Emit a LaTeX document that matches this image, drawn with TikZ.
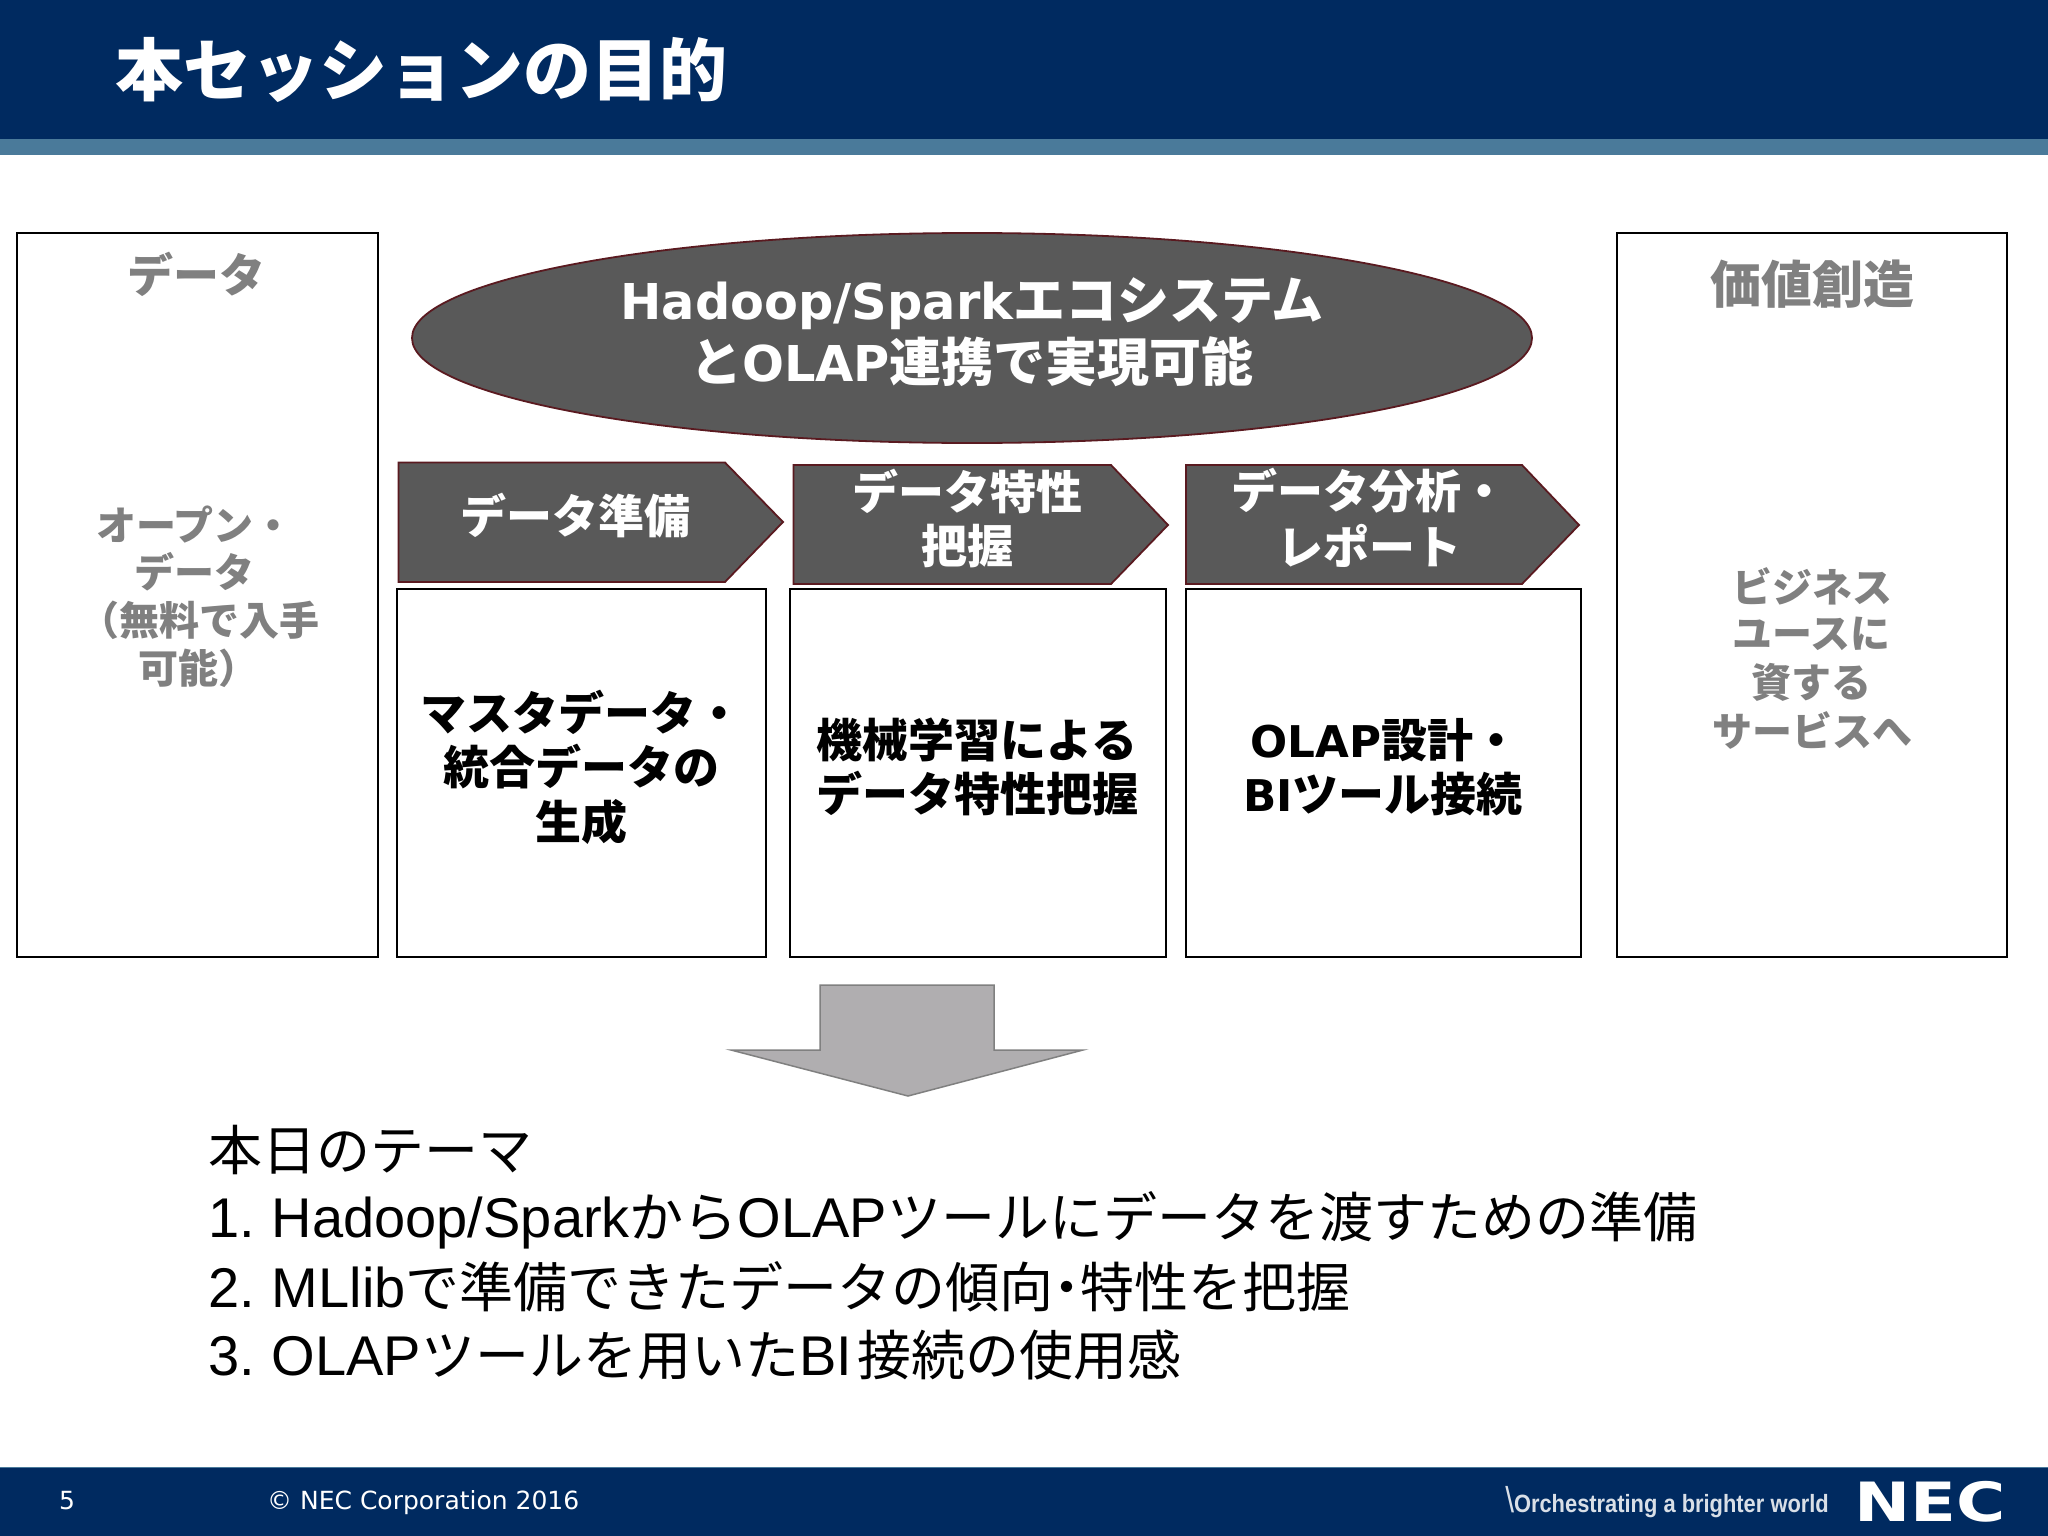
\documentclass[tikz,border=0pt]{standalone}
\usepackage{fontspec}
\usetikzlibrary{shapes.geometric}
\setmainfont{Noto Sans CJK JP}
\newfontfamily\lsans{Liberation Sans}
\newfontfamily\dv{DejaVu Sans}
\newfontfamily\dvb[Scale=0.95]{DejaVu Sans Bold}
\newcommand{\la}[1]{{\lsans\fontsize{56}{56}\selectfont #1}}
\newcommand{\lb}[1]{{\dvb #1}}
\newcommand{\fs}[1]{\fontsize{#1}{#1}\selectfont}
\definecolor{navy}{HTML}{002A60}
\definecolor{band}{HTML}{4A7A9A}
\definecolor{dkfill}{HTML}{595959}
\definecolor{dkline}{HTML}{5A1A20}
\definecolor{greytxt}{HTML}{808080}
\definecolor{arrfill}{HTML}{B0AEB0}
\tikzset{
  x=1pt,y=-1pt,
  panel/.style={draw=black,line width=2pt,fill=white},
  dark/.style={draw=dkline,line width=1.8pt,fill=dkfill},
  wtxt/.style={text=white,font=\bfseries\fs{46},align=center,inner sep=0pt},
  btxt/.style={text=black,font=\bfseries\fs{46},align=center,inner sep=0pt},
  gtxt/.style={text=greytxt,font=\bfseries\fs{40},inner sep=0pt},
}
\begin{document}
\begin{tikzpicture}
\useasboundingbox (0,0) rectangle (2048,1536);
\fill[white] (0,0) rectangle (2048,1536);
% header
\fill[navy] (0,0) rectangle (2048,139);
\fill[band] (0,139) rectangle (2048,155);
\node[anchor=west,text=white,font=\bfseries\fs{68},inner sep=0pt] (title) at (115,70) {本セッションの目的};
% side and lower panels
\draw[panel] (17,233) rectangle (377.5,957);
\draw[panel] (1617,233) rectangle (2007,957);
\draw[panel] (397,589) rectangle (765.5,957);
\draw[panel] (789.5,589) rectangle (1166,957);
\draw[panel] (1186,589) rectangle (1580.5,957);
% ellipse
\node[ellipse,dark,minimum width=1120pt,minimum height=210pt,inner sep=0pt] (eco) at (972,338) {};
\node[wtxt,font=\bfseries\fs{52}] (ecotxt1) at (972,304) {\lb{Hadoop/Spark}エコシステム};
\node[wtxt,font=\bfseries\fs{52}] (ecotxt2) at (972,362) {と\lb{OLAP}連携で実現可能};
% pentagon arrows
\draw[dark] (398.5,462.5) -- (725,462.5) -- (783,522) -- (725,582) -- (398.5,582) -- cycle;
\draw[dark] (793.5,465) -- (1111,465) -- (1168,525) -- (1111,584) -- (793.5,584) -- cycle;
\draw[dark] (1186,465) -- (1522,465) -- (1579,525) -- (1522,584) -- (1186,584) -- cycle;
\node[wtxt] (a1) at (575,516) {データ準備};
\node[wtxt] (a2a) at (967,491) {データ特性};
\node[wtxt] (a2b) at (967,546) {把握};
\node[wtxt,anchor=west] (a3a) at (1231,491) {データ分析・};
\node[wtxt] (a3b) at (1369,546) {レポート};
% box texts
\node[btxt,anchor=west] (b1a) at (420,712) {マスタデータ・};
\node[btxt] (b1b) at (581,767) {統合データの};
\node[btxt] (b1c) at (581,822) {生成};
\node[btxt] (b2a) at (977,740) {機械学習による};
\node[btxt] (b2b) at (977,794) {データ特性把握};
\node[btxt,anchor=west] (b3a) at (1250,740) {\lb{OLAP}設計・};
\node[btxt] (b3b) at (1383,794) {\lb{BI}ツール接続};
% left panel texts
\node[gtxt,font=\bfseries\fs{46}] (l0) at (196,274) {データ};
\node[gtxt,anchor=west] (l1) at (96,525) {オープン・};
\node[gtxt,anchor=west] (l2) at (134,572) {データ};
\node[gtxt,anchor=west] (l3) at (79,620) {（無料で入手};
\node[gtxt,anchor=west] (l4) at (138,668) {可能）};
% right panel texts
\node[gtxt,font=\bfseries\fs{51}] (r0) at (1812,284) {価値創造};
\node[gtxt] (r1) at (1812,586) {ビジネス};
\node[gtxt] (r2) at (1811,634) {ユースに};
\node[gtxt] (r3) at (1811,682) {資する};
\node[gtxt] (r4) at (1812,730) {サービスへ};
% down arrow
\draw[draw=greytxt,line width=1.5pt,fill=arrfill]
  (820,985) -- (994,985) -- (994,1050) -- (1083,1050) -- (908,1096) -- (731,1050) -- (820,1050) -- cycle;
% theme list
\begin{scope}[every node/.style={anchor=west,inner sep=0pt,font=\fs{54},text=black}]
\node (t0) at (208,1150) {本日のテーマ};
\node (t1) at (208,1220) {\la{1.\hspace{17pt}Hadoop/Spark}から\la{OLAP}ツールにデータを渡すための準備};
\node (t2) at (208,1287) {\la{2.\hspace{17pt}MLlib}で準備できたデータの傾向{\bfseries ･}特性を把握};
\node (t3) at (208,1355) {\la{3.\hspace{17pt}OLAP}ツールを用いた\la{BI}\hspace{5pt}接続の使用感};
\end{scope}
% footer
\fill[navy] (0,1467) rectangle (2048,1536);
\draw[band,line width=1pt] (0,1467) -- (2048,1467);
\node[text=white,font=\dv\fs{25},inner sep=0pt] (pg) at (67,1501) {5};
\node[text=white,font=\dv\fs{25},anchor=west,inner sep=0pt] (copy) at (267,1503) {© NEC Corporation 2016};
\node[text=white!85!navy,font=\lsans\bfseries\fs{25},anchor=east,inner sep=0pt,xscale=0.875] (tag) at (1829,1502) {{\lsans\mdseries\fs{36}\textbackslash}Orchestrating a brighter world};
\node[text=white,font=\dvb\fs{57},anchor=east,inner sep=0pt,xscale=1.24] (nec) at (2006,1502) {NEC};
\end{tikzpicture}
\end{document}
